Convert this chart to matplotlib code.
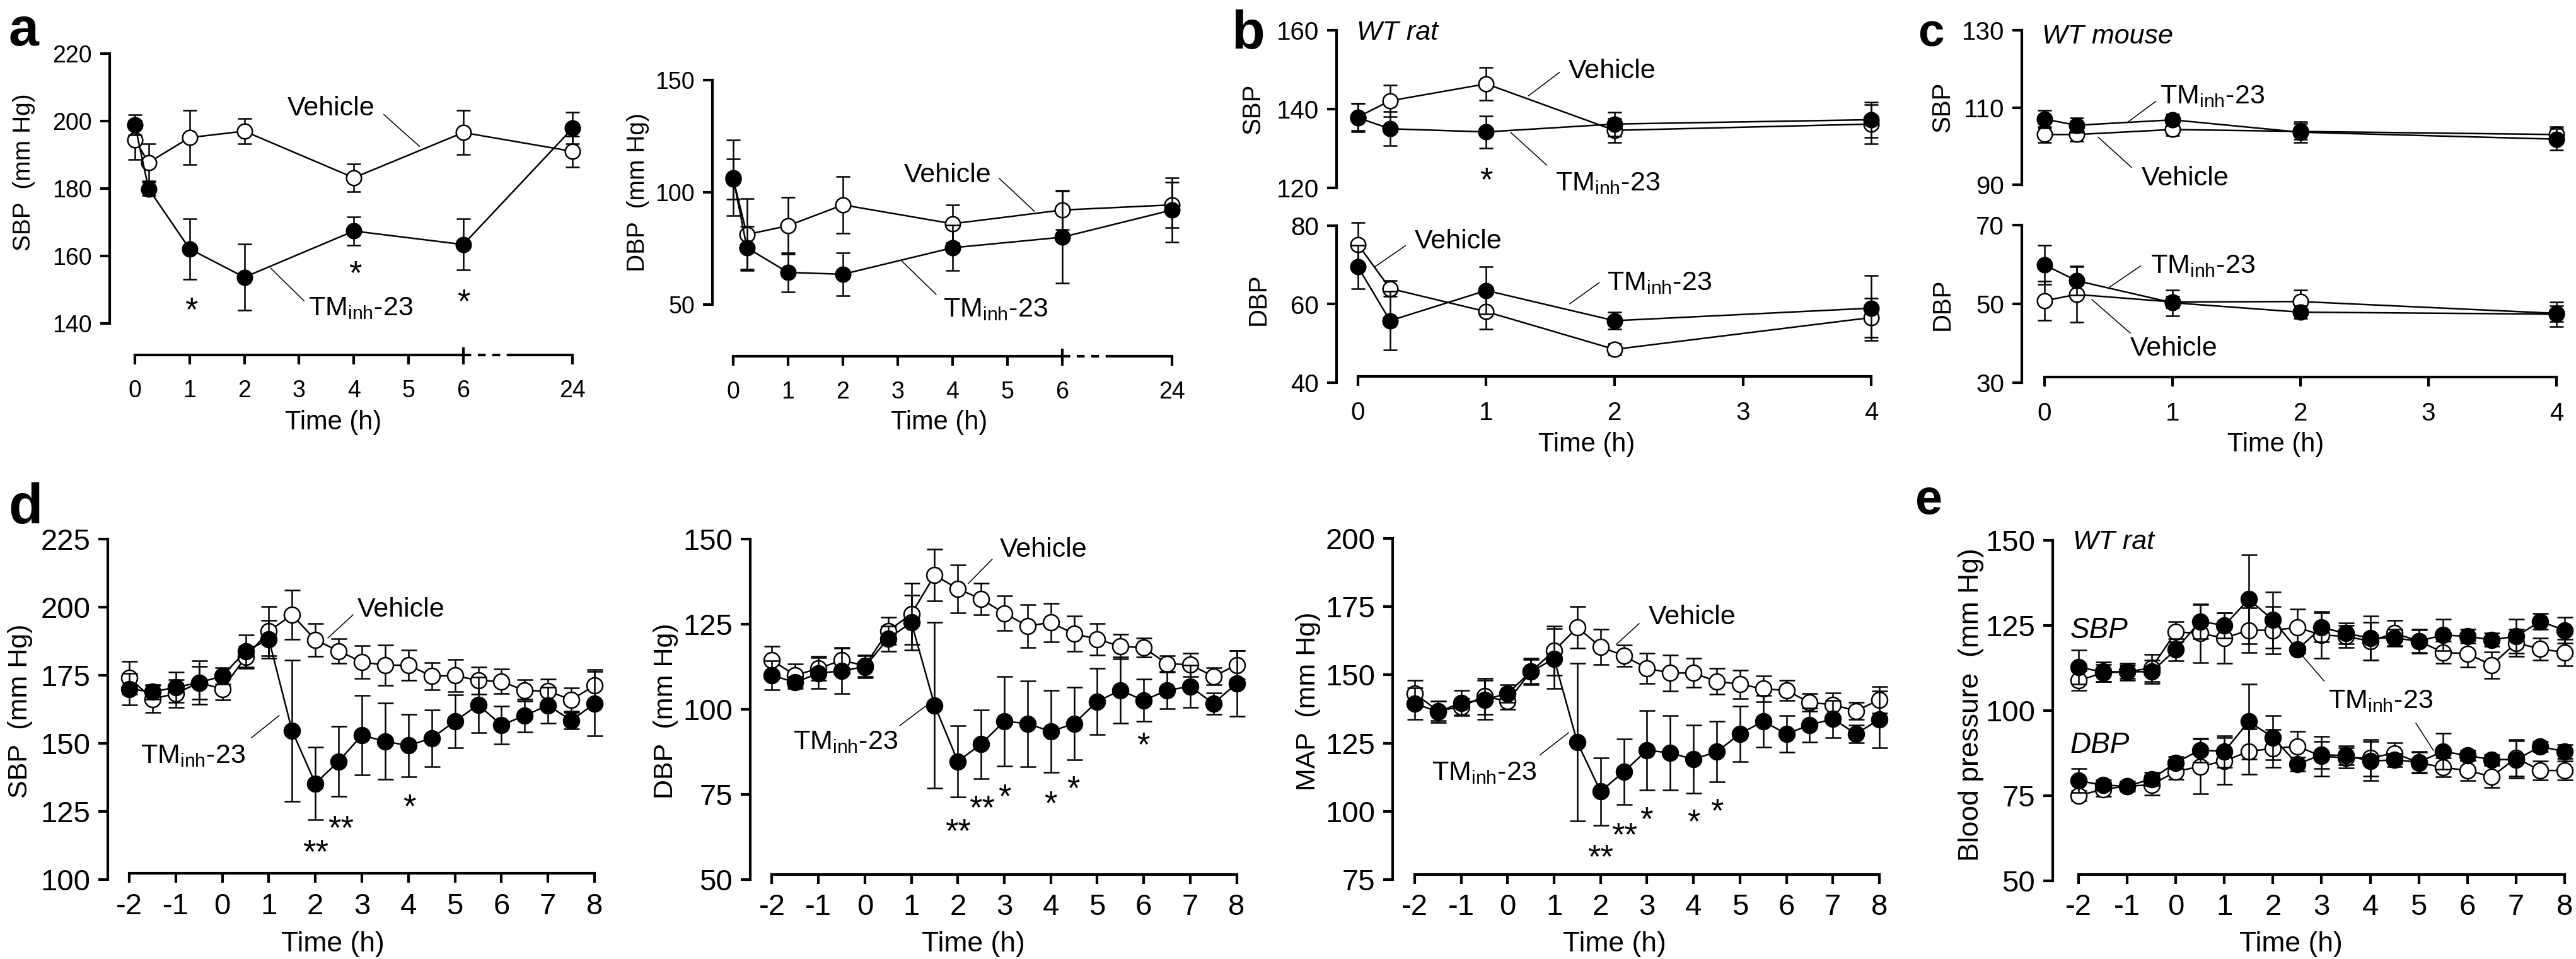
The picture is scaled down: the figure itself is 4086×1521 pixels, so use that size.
import numpy as np
import matplotlib
matplotlib.use('Agg')
import matplotlib.pyplot as plt

W, H = 4087, 1521
DPI = 100

plt.rcParams['font.family'] = ['Liberation Sans', 'DejaVu Sans']
plt.rcParams['mathtext.fontset'] = 'custom'
plt.rcParams['mathtext.rm'] = 'Liberation Sans'
plt.rcParams['mathtext.it'] = 'Liberation Sans:italic'
plt.rcParams['mathtext.bf'] = 'Liberation Sans:bold'
plt.rcParams['axes.unicode_minus'] = False
NARROW = ['Liberation Sans Narrow', 'Liberation Sans']
TM = r'TM$_{\mathrm{inh}}$-23'

# ---------------- data ----------------
# a: SHR rat, 0-24 h
a_t = [0, 0.25, 1, 2, 4, 6, 24]
a_sbp_veh = [194.4, 187.7, 195.1, 197.0, 183.2, 196.6, 191.0]
a_sbp_veh_err = [5.8, 5.5, 8.0, 3.8, 4.1, 6.5, 4.6]
a_sbp_tm = [198.9, 179.9, 162.1, 153.7, 167.4, 163.4, 197.9]
a_sbp_tm_err = [3.0, 2.0, 9.0, 9.8, 4.2, 7.6, 4.7]
a_dbp_veh = [106.0, 81.2, 85.1, 94.4, 86.0, 92.1, 94.4]
a_dbp_veh_err = [9.0, 16.0, 12.7, 12.7, 8.4, 8.7, 10.0]
a_dbp_tm = [106.5, 75.3, 64.3, 63.5, 75.3, 80.0, 92.1]
a_dbp_tm_err = [16.8, 9.5, 8.6, 9.5, 10.0, 20.5, 14.3]

# b: WT rat, c: WT mouse
bc_t = [0, 0.25, 1, 2, 4]
b_sbp_veh = [138.0, 142.1, 146.4, 134.6, 136.2]
b_sbp_veh_err = [3.5, 4.0, 4.2, 3.0, 5.0]
b_sbp_tm = [137.8, 135.0, 134.2, 136.2, 137.3]
b_sbp_tm_err = [3.6, 4.3, 4.1, 3.0, 4.5]
b_dbp_veh = [75.2, 64.0, 58.1, 48.5, 56.6]
b_dbp_veh_err = [5.6, 2.0, 4.5, 1.5, 5.0]
b_dbp_tm = [69.5, 55.8, 63.5, 55.8, 59.0]
b_dbp_tm_err = [5.5, 7.5, 6.0, 2.2, 8.3]

c_sbp_veh = [103.0, 103.0, 104.3, 103.8, 103.0]
c_sbp_veh_err = [2.0, 1.7, 1.5, 2.0, 2.0]
c_sbp_tm = [107.0, 105.4, 106.8, 103.6, 101.8]
c_sbp_tm_err = [2.3, 1.9, 1.5, 2.7, 2.8]
c_dbp_veh = [50.8, 52.4, 50.5, 50.6, 47.6]
c_dbp_veh_err = [5.0, 7.0, 1.5, 3.0, 2.0]
c_dbp_tm = [59.9, 55.9, 50.3, 47.9, 47.4]
c_dbp_tm_err = [5.0, 3.7, 3.3, 1.6, 3.1]

# d, e: -2 to 8 h, every 30 min
de_t = [-2, -1.5, -1, -0.5, 0, 0.5, 1, 1.5, 2, 2.5, 3, 3.5, 4, 4.5, 5, 5.5,
        6, 6.5, 7, 7.5, 8]
d_sbp_veh = [174.1, 166.3, 168.3, 172.3, 170.0, 181.6, 191.2, 197.2, 188.0, 183.9, 179.9,
             178.7, 178.7, 174.7, 174.9, 173.1, 172.7, 169.4, 169.2, 166.0, 171.2]
d_sbp_veh_err = [6, 5, 5, 6, 4, 4, 9, 9, 6, 4.5, 6, 7.5, 5.5, 5, 6, 5, 4.5, 4, 4.5, 4.3, 5.8]
d_sbp_tm = [170.0, 168.9, 170.6, 172.3, 174.7, 183.9, 188.2, 154.6, 135.3, 143.4, 153.0,
            150.7, 149.2, 151.9, 158.1, 164.2, 156.7, 160.2, 164.0, 158.4, 164.6]
d_sbp_tm_err = [5.8, 2.6, 5.5, 8, 3, 6, 7, 26, 13.4, 12.9, 14.5, 14, 11.4, 10.4, 9.8, 10.2,
                6.9, 6, 6.6, 3, 11.9]

d_dbp_veh = [114.4, 110.0, 112.0, 114.4, 112.8, 123.0, 128.0, 139.4, 135.4, 132.4, 128.2,
             124.5, 125.5, 122.2, 120.6, 118.5, 118.1, 113.4, 113.1, 109.7, 113.0]
d_dbp_veh_err = [4.2, 3.3, 3.5, 3.8, 3.2, 4, 9, 7.6, 7, 4.6, 5.1, 6.3, 5.6, 5.2, 4.6, 3.6,
                 2.8, 2.4, 3.4, 2.5, 4.2]
d_dbp_tm = [110.0, 107.9, 110.6, 111.3, 112.5, 120.8, 125.5, 101.2, 84.7, 89.8, 96.5,
            95.8, 93.5, 95.8, 102.3, 105.6, 102.6, 105.6, 106.7, 101.7, 107.6]
d_dbp_tm_err = [4.3, 1.7, 4.5, 6.6, 3.3, 3.7, 8, 24.3, 10.5, 10.1, 13.2, 12.6, 12, 10.6,
                9.7, 9.7, 6.2, 5.5, 6.2, 3.1, 9.6]

d_map_veh = [143.2, 136.8, 138.3, 142.2, 140.3, 151.2, 158.8, 167.4, 160.3, 157.0, 152.4,
             150.7, 150.7, 147.6, 146.6, 144.9, 144.3, 139.9, 139.1, 136.8, 140.9]
d_map_veh_err = [4.8, 3.5, 3, 6.6, 3, 4.8, 9, 7.7, 6.5, 4, 5.5, 6.5, 5.3, 4.7, 5.2, 4.7,
                 3.6, 3.3, 4.3, 3.2, 4.9]
d_map_tm = [139.5, 136.5, 139.7, 140.9, 143.2, 151.2, 155.9, 125.3, 107.3, 114.5, 122.4,
            121.4, 119.1, 121.8, 128.4, 133.0, 128.4, 131.6, 133.9, 128.4, 133.7]
d_map_tm_err = [5.8, 4, 4.6, 7.2, 3.2, 4.4, 11, 28.9, 12.4, 12.1, 14.6, 13.7, 12.4, 11.1,
                10.1, 9.5, 6.7, 6.2, 6.8, 3.2, 10.4]

e_sbp_veh = [108.8, 111.1, 111.4, 112.5, 123.1, 122.7, 121.3, 123.6, 123.6, 124.4, 122.2,
             121.8, 120.4, 122.7, 120.4, 117.1, 116.7, 113.4, 119.9, 118.1, 117.1]
e_sbp_veh_err = [2.8, 2.5, 2, 4, 3, 8.6, 7.4, 6.5, 7, 5.5, 6.8, 3.2, 5.5, 3.7, 3.3, 3.2,
                 3.9, 3.9, 4, 3.2, 3.9]
e_sbp_tm = [112.7, 111.4, 111.4, 111.4, 117.9, 126.2, 125.0, 132.7, 126.6, 117.9, 124.4,
            122.7, 121.3, 121.3, 120.4, 122.2, 121.8, 120.8, 121.8, 126.2, 123.6]
e_sbp_tm_err = [5, 2.8, 2.5, 3.5, 3.3, 5, 3.7, 13, 8.3, 1, 4.3, 3, 6.5, 2.5, 3.5, 4.6,
                2, 2, 5, 2.3, 3.8]
e_dbp_veh = [75.0, 76.9, 77.8, 78.2, 82.1, 83.6, 85.2, 88.0, 88.9, 89.5, 86.6, 86.1, 86.1,
             87.5, 84.7, 83.3, 82.4, 80.6, 86.1, 82.4, 82.4]
e_dbp_veh_err = [1.5, 2, 1.5, 3, 2.3, 8, 6.8, 6.7, 5.5, 4.3, 5.8, 3, 5.4, 3.1, 3, 2.8, 3,
                 3.2, 5.3, 2.8, 2.8]
e_dbp_tm = [79.4, 78.1, 77.8, 79.9, 84.7, 88.4, 88.0, 96.8, 92.1, 84.3, 87.0, 86.8, 85.2,
            85.5, 84.9, 88.0, 86.8, 85.6, 85.6, 89.4, 88.0]
e_dbp_tm_err = [3.5, 1.5, 1, 2, 1.7, 3.5, 4.6, 11, 6.5, 2, 4, 2.8, 5.8, 2, 3, 5.3, 1.5,
                1.5, 5.5, 1.5, 2]

de_ticks = [-2, -1, 0, 1, 2, 3, 4, 5, 6, 7, 8]

fig = plt.figure(figsize=(W / DPI, H / DPI), dpi=DPI)


def px_axes(l, t, r, b):
    # rectangle given in pixels of the final picture
    return fig.add_axes([l / W, 1 - b / H, (r - l) / W, (b - t) / H])


def style(ax, yticks, fs, narrow=False, xpad=17):
    ax.set_facecolor('none')
    ax.spines['top'].set_visible(False)
    ax.spines['right'].set_visible(False)
    ax.spines['left'].set_linewidth(3)
    ax.spines['bottom'].set_linewidth(3)
    ax.set_yticks(yticks)
    ax.tick_params(axis='both', direction='out', length=11, width=3, labelsize=fs)
    ax.tick_params(axis='y', pad=9)
    ax.tick_params(axis='x', pad=xpad)
    if narrow:
        for lab in ax.get_xticklabels() + ax.get_yticklabels():
            lab.set_fontfamily(NARROW)


def series(ax, t, y, e, filled, ms=17, cap=8):
    ax.errorbar(t, y, yerr=e, fmt='-o', color='k', lw=1.8, ms=ms,
                mfc='k' if filled else 'white', mec='k', mew=1.8,
                elinewidth=1.8, capsize=cap, capthick=1.8,
                clip_on=False, zorder=4 if filled else 3)


def label(ax, x, y, s, ha='center', va='center', fs=31, **kw):
    ax.text(x, y, s, ha=ha, va=va, fontsize=fs, **kw)


def leader(ax, p, q):
    ax.plot([p[0], q[0]], [p[1], q[1]], color='k', lw=1.1, clip_on=False)


def star(ax, x, y, s, fs=38):
    ax.annotate(s, (x, y), xytext=(0, -0.58 * fs), textcoords='offset points',
                ha='center', va='baseline', fontsize=fs)


def ftext(x, y, s, fs, rot=0, **kw):
    fig.text(x / W, 1 - y / H, s, fontsize=fs, rotation=rot, ha='center', va='center', **kw)


def fwd(t):
    t = np.asarray(t, dtype=float)
    return np.where(t <= 6, t, 6 + (t - 6) / 9.0)


def inv(u):
    u = np.asarray(u, dtype=float)
    return np.where(u <= 6, u, 6 + (u - 6) * 9.0)


def broken_x(ax, off_px, height_px):
    ax.set_xscale('function', functions=(fwd, inv))
    ax.spines['bottom'].set_position(('outward', off_px * 0.72))
    ax.spines['bottom'].set_bounds(0, 6)
    ax.set_xticks([0, 1, 2, 3, 4, 5, 6, 24])
    ax.set_xticklabels(['0', '1', '2', '3', '4', '5', '6', '24'])
    yy = -off_px / height_px
    tr = ax.get_xaxis_transform()
    ax.plot([6, 14.1], [yy, yy], transform=tr, color='k', lw=3, ls=(0, (3, 2.5)), clip_on=False)
    ax.plot([14.1, 24], [yy, yy], transform=tr, color='k', lw=3, clip_on=False)
    ax.plot([6, 6], [yy, yy + 10 / height_px], transform=tr, color='k', lw=3, clip_on=False)


# ---------------- panel a ----------------
ax = px_axes(174, 85, 934, 513)
ax.set_ylim(140, 220)
broken_x(ax, 50, 428)
ax.set_xlim(-0.461, 26.65)
style(ax, [140, 160, 180, 200, 220], 27)
series(ax, a_t, a_sbp_veh, a_sbp_veh_err, False)
series(ax, a_t, a_sbp_tm, a_sbp_tm_err, True)
label(ax, 3.58, 203.7, 'Vehicle')
leader(ax, (4.55, 201.9), (5.2, 192.5))
label(ax, 3.17, 142.4, TM, ha='left', va='baseline')
leader(ax, (3.09, 146.7), (2.48, 156.4))
star(ax, 1.03, 146.7, '*')
star(ax, 2.0, 137.4, '**')
star(ax, 4.02, 157.4, '*')
star(ax, 6.03, 149.0, '*')

ax = px_axes(1130, 127, 1885, 483)
ax.set_ylim(50, 150)
broken_x(ax, 82, 356)
ax.set_xlim(-0.379, 26.7)
style(ax, [50, 100, 150], 27)
series(ax, a_t, a_dbp_veh, a_dbp_veh_err, False)
series(ax, a_t, a_dbp_tm, a_dbp_tm_err, True)
label(ax, 3.91, 107.6, 'Vehicle')
leader(ax, (4.85, 106.2), (5.49, 91.6))
label(ax, 3.83, 44.7, TM, ha='left', va='baseline')
leader(ax, (3.70, 54.5), (3.06, 69.7))

ftext(38, 273, 'SBP  (mm Hg)', 28, rot=90)
ftext(1012, 305, 'DBP  (mm Hg)', 28, rot=90)
ftext(529, 670, 'Time (h)', 30)
ftext(1490, 670, 'Time (h)', 30)

# ---------------- panel b ----------------
ax = px_axes(2120, 48, 2990, 298)
ax.set_xlim(-0.167, 4.108)
ax.set_ylim(120, 160)
style(ax, [120, 140, 160], 29)
ax.spines['bottom'].set_visible(False)
ax.tick_params(axis='x', bottom=False, labelbottom=False)
series(ax, bc_t, b_sbp_veh, b_sbp_veh_err, False)
series(ax, bc_t, b_sbp_tm, b_sbp_tm_err, True)
label(ax, -0.01, 159.4, 'WT rat', ha='left', style='italic')
label(ax, 1.98, 149.6, 'Vehicle')
leader(ax, (1.57, 149.3), (1.33, 143.4))
label(ax, 1.54, 119.4, TM, ha='left', va='baseline')
leader(ax, (1.47, 125.8), (1.19, 134.1))
star(ax, 1.0, 124.3, '*')

ax = px_axes(2120, 358, 2990, 607)
ax.set_xlim(-0.167, 4.108)
ax.set_ylim(40, 80)
ax.spines['bottom'].set_position(('data', 41.6))
ax.spines['bottom'].set_bounds(0, 4)
ax.set_xticks([0, 1, 2, 3, 4])
style(ax, [40, 60, 80], 29)
series(ax, bc_t, b_dbp_veh, b_dbp_veh_err, False)
series(ax, bc_t, b_dbp_tm, b_dbp_tm_err, True)
label(ax, 0.78, 76.0, 'Vehicle')
leader(ax, (0.37, 74.9), (0.13, 69.5))
label(ax, 1.94, 63.6, TM, ha='left', va='baseline')
leader(ax, (1.88, 65.5), (1.65, 60.1))

ftext(1987, 173, 'SBP', 29, rot=90)
ftext(1996, 475, 'DBP', 29, rot=90)
ftext(2517, 705, 'Time (h)', 30)

# ---------------- panel c ----------------
ax = px_axes(3207, 48, 4077, 293)
ax.set_xlim(-0.177, 4.108)
ax.set_ylim(90, 130)
style(ax, [90, 110, 130], 29)
ax.spines['bottom'].set_visible(False)
ax.tick_params(axis='x', bottom=False, labelbottom=False)
series(ax, bc_t, c_sbp_veh, c_sbp_veh_err, False)
series(ax, bc_t, c_sbp_tm, c_sbp_tm_err, True)
label(ax, -0.02, 128.4, 'WT mouse', ha='left', style='italic')
label(ax, 0.90, 111.1, TM, ha='left', va='baseline')
leader(ax, (0.87, 111.6), (0.65, 106.2))
label(ax, 1.10, 91.6, 'Vehicle')
leader(ax, (0.68, 94.5), (0.42, 102.3))

ax = px_axes(3207, 357, 4077, 607)
ax.set_xlim(-0.177, 4.108)
ax.set_ylim(30, 70)
ax.spines['bottom'].set_position(('data', 31.4))
ax.spines['bottom'].set_bounds(0, 4)
ax.set_xticks([0, 1, 2, 3, 4])
style(ax, [30, 50, 70], 29)
series(ax, bc_t, c_dbp_veh, c_dbp_veh_err, False)
series(ax, bc_t, c_dbp_tm, c_dbp_tm_err, True)
label(ax, 0.83, 57.8, TM, ha='left', va='baseline')
leader(ax, (0.75, 59.6), (0.51, 54.3))
label(ax, 1.01, 38.6, 'Vehicle')
leader(ax, (0.67, 42.6), (0.37, 51.1))

ftext(3081, 170, 'SBP', 29, rot=90)
ftext(3081, 483, 'DBP', 29, rot=90)
ftext(3610, 705, 'Time (h)', 30)


# ---------------- panel d ----------------
def time_axis(ax, ypos):
    ax.spines['bottom'].set_position(('data', ypos))
    ax.spines['bottom'].set_bounds(-2, 8)
    ax.set_xticks(de_ticks)
    ax.set_xticklabels([str(v) for v in de_ticks])


ax = px_axes(171, 855, 965, 1395)
ax.set_xlim(-2.461, 8.298)
ax.set_ylim(100, 225)
time_axis(ax, 102.3)
style(ax, [100, 125, 150, 175, 200, 225], 34, narrow=True, xpad=11)
series(ax, de_t, d_sbp_veh, d_sbp_veh_err, False, ms=18, cap=9)
series(ax, de_t, d_sbp_tm, d_sbp_tm_err, True, ms=18, cap=9)
label(ax, 3.84, 199.1, 'Vehicle')
leader(ax, (2.81, 197.2), (2.27, 188.7))
label(ax, -1.76, 142.8, TM, ha='left', va='baseline')
leader(ax, (0.63, 152.1), (1.22, 160.2))
star(ax, 2.55, 122.0, '**')
star(ax, 2.01, 113.4, '**')
star(ax, 4.02, 130.1, '*')

ax = px_axes(1190, 855, 1984, 1395)
ax.set_xlim(-2.468, 8.305)
ax.set_ylim(50, 150)
time_axis(ax, 51.5)
style(ax, [50, 75, 100, 125, 150], 34, narrow=True, xpad=11)
series(ax, de_t, d_dbp_veh, d_dbp_veh_err, False, ms=18, cap=9)
series(ax, de_t, d_dbp_tm, d_dbp_tm_err, True, ms=18, cap=9)
label(ax, 3.84, 146.9, 'Vehicle')
leader(ax, (2.74, 144.1), (2.23, 137.0))
label(ax, -1.55, 88.4, TM, ha='left', va='baseline')
leader(ax, (0.75, 95.2), (1.36, 101.5))
star(ax, 2.01, 66.7, '**')
star(ax, 2.52, 73.7, '**')
star(ax, 3.0, 76.9, '*')
star(ax, 3.99, 75.0, '*')
star(ax, 4.49, 79.3, '*')
star(ax, 5.99, 92.2, '*')

ax = px_axes(2209, 854, 3003, 1395)
ax.set_xlim(-2.475, 8.30)
ax.set_ylim(75, 200)
time_axis(ax, 76.9)
style(ax, [75, 100, 125, 150, 175, 200], 34, narrow=True, xpad=11)
series(ax, de_t, d_map_veh, d_map_veh_err, False, ms=18, cap=9)
series(ax, de_t, d_map_tm, d_map_tm_err, True, ms=18, cap=9)
label(ax, 3.97, 171.1, 'Vehicle')
leader(ax, (2.83, 168.8), (2.34, 161.2))
label(ax, -1.63, 111.4, TM, ha='left', va='baseline')
leader(ax, (0.70, 120.7), (1.31, 128.8))
star(ax, 2.0, 86.5, '**')
star(ax, 2.52, 94.6, '**')
star(ax, 2.99, 100.4, '*')
star(ax, 4.01, 99.3, '*')
star(ax, 4.5, 103.4, '*')

ftext(32, 1128, 'SBP  (mm Hg)', 31, rot=90)
ftext(1056, 1128, 'DBP  (mm Hg)', 31, rot=90)
ftext(2075, 1112, 'MAP  (mm Hg)', 31, rot=90)
ftext(528, 1497, 'Time (h)', 32)
ftext(1544, 1497, 'Time (h)', 32)
ftext(2561, 1497, 'Time (h)', 32)

# ---------------- panel e ----------------
ax = px_axes(3256, 857, 4083, 1397)
ax.set_xlim(-2.532, 8.195)
ax.set_ylim(50, 150)
time_axis(ax, 51.9)
style(ax, [50, 75, 100, 125, 150], 34, narrow=True, xpad=11)
series(ax, de_t, e_sbp_veh, e_sbp_veh_err, False, ms=18, cap=9)
series(ax, de_t, e_sbp_tm, e_sbp_tm_err, True, ms=18, cap=9)
series(ax, de_t, e_dbp_veh, e_dbp_veh_err, False, ms=18, cap=9)
series(ax, de_t, e_dbp_tm, e_dbp_tm_err, True, ms=18, cap=9)
label(ax, -2.12, 149.4, 'WT rat', ha='left', style='italic')
label(ax, -2.17, 123.5, 'SBP', ha='left', style='italic', fs=33)
label(ax, -2.17, 89.8, 'DBP', ha='left', style='italic', fs=33)
label(ax, 3.14, 100.8, TM, ha='left', va='baseline')
leader(ax, (3.05, 108.7), (2.55, 117.0))
leader(ax, (4.94, 96.3), (5.30, 88.3))

ftext(3127, 1118, 'Blood pressure  (mm Hg)', 32, rot=90)
ftext(3634, 1497, 'Time (h)', 32)

# panel letters
for s, x, y, fs in [('a', 13, 72, 62), ('b', 1953, 77, 62), ('c', 3042, 73, 54),
                    ('d', 13, 830, 64), ('e', 3038, 815, 56)]:
    fig.text(x / W, 1 - y / H, s, fontsize=fs, fontweight='bold', ha='left', va='baseline')

fig.savefig('out.png', dpi=DPI, facecolor='white')
